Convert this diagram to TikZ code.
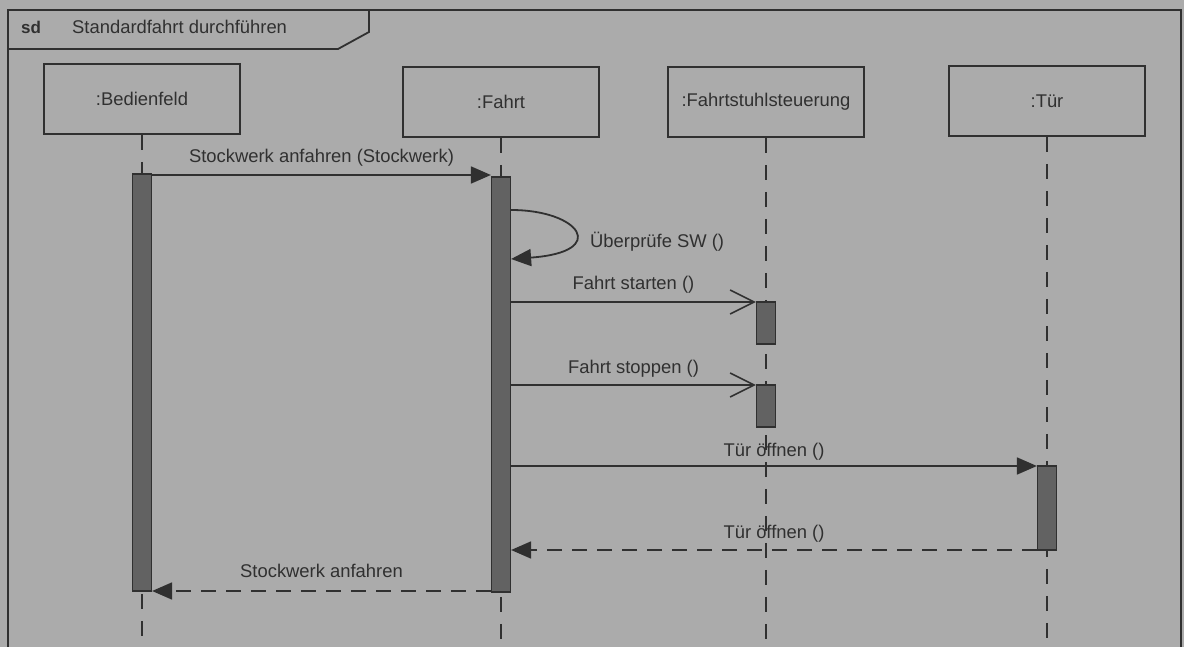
\documentclass[tikz,border=0pt]{standalone}
\usepackage{fontspec}
\setmainfont{Liberation Sans}
\usetikzlibrary{arrows.meta}
\definecolor{paper}{HTML}{ABABAB}
\definecolor{ink}{HTML}{303030}
\definecolor{barfill}{HTML}{626262}
\begin{document}
\begin{tikzpicture}[x=1pt,y=-1pt,
  every node/.style={text=ink},
  frame/.style={draw=ink,line width=1.8pt},
  head/.style={draw=ink,line width=1.6pt,minimum width=196pt,minimum height=70pt,inner sep=0pt,
    font=\fontsize{18.4}{22}\selectfont},
  life/.style={draw=ink,line width=1.8pt,dash pattern=on 15pt off 12pt},
  bar/.style={draw=ink,line width=1.2pt,fill=barfill,minimum width=19pt,inner sep=0pt},
  call/.style={draw=ink,line width=1.8pt,-{Triangle[length=20pt,width=17pt]}},
  async/.style={draw=ink,line width=1.6pt,-{Straight Barb[length=24pt,width=24pt,line width=1.6pt]}},
  reply/.style={draw=ink,line width=1.8pt,dash pattern=on 15pt off 10pt,-{Triangle[length=20pt,width=17pt]}},
  lbl/.style={anchor=base,inner sep=0pt,yshift=12pt,font=\fontsize{18.4}{22}\selectfont},
]
\useasboundingbox (0,0) rectangle (1184,647);
\fill[paper] (0,0) rectangle (1184,647);
\clip (0,0) rectangle (1184,647);

% diagram frame with name tab
\draw[frame] (8,660) -- (8,10) -- (1181,10) -- (1181,660);
\draw[frame] (8,49) -- (338,49) -- (369,32) -- (369,10);
\node[anchor=base west,inner sep=0pt,font=\fontsize{17}{20}\selectfont\bfseries] (sd) at (21,34) {sd};
\node[anchor=base west,inner sep=0pt,font=\fontsize{18.4}{22}\selectfont] (title) at (72,34) {Standardfahrt durchführen};

% lifeline heads
\node[head] (hB) at (142,99) {:Bedienfeld};
\node[head] (hF) at (501,102) {:Fahrt};
\node[head] (hS) at (766,102) {:Fahrtstuhlsteuerung};
\node[head] (hT) at (1047,101) {:Tür};

% lifelines
\coordinate (yend) at (0,641);
\draw[life] (hB.south) -- (hB.south |- yend);
\draw[life] (hF.south) -- (hF.south |- yend);
\draw[life] (hS.south) -- (hS.south |- yend);
\draw[life] (hT.south) -- (hT.south |- yend);

% activation bars
\node[bar,minimum height=417pt] (bB) at (142,382.5) {};
\node[bar,minimum height=415pt] (bF) at (501,384.5) {};
\node[bar,minimum height=42pt] (bS1) at (766,323) {};
\node[bar,minimum height=42pt] (bS2) at (766,406) {};
\node[bar,minimum height=84pt] (bT) at (1047,508) {};

% message levels
\coordinate (m1) at (0,175);
\coordinate (s1) at (0,210);
\coordinate (s2) at (0,259);
\coordinate (m2) at (0,302);
\coordinate (m3) at (0,385);
\coordinate (m4) at (0,466);
\coordinate (m5) at (0,550);
\coordinate (m6) at (0,591);

% messages
\draw[call] (bB.east |- m1) -- node[lbl] {Stockwerk anfahren (Stockwerk)} (bF.west |- m1);
\draw[call] (bF.east |- s1) .. controls (580,210) and (610,252) .. (bF.east |- s2);
\node[anchor=base west,inner sep=0pt,font=\fontsize{18.4}{22}\selectfont] (selflbl) at (590,248) {Überprüfe SW ()};
\draw[async] (bF.east |- m2) -- node[lbl] {Fahrt starten ()} (bS1.west |- m2);
\draw[async] (bF.east |- m3) -- node[lbl] {Fahrt stoppen ()} (bS2.west |- m3);
\draw[call] (bF.east |- m4) -- node[lbl,yshift=-2pt] {Tür öffnen ()} (bT.west |- m4);
\draw[reply] (bT.west |- m5) -- node[lbl] {Tür öffnen ()} (bF.east |- m5);
\draw[reply] (bF.west |- m6) -- node[lbl,yshift=2pt] {Stockwerk anfahren} (bB.east |- m6);
\end{tikzpicture}
\end{document}
